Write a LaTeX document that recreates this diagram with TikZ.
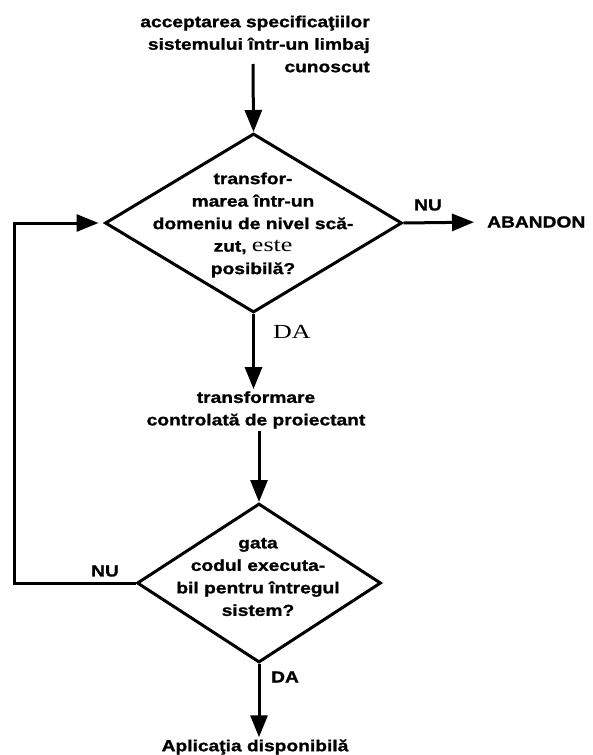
\documentclass[tikz,border=0pt]{standalone}
\usepackage{fontspec}
\setmainfont{Liberation Sans}[FakeStretch=1.2, BoldFeatures={FakeBold=1.2}]
\newfontfamily\romanfont{Liberation Serif}[FakeStretch=1.3]
\usetikzlibrary{shapes.geometric,arrows.meta}

\begin{document}
\begin{tikzpicture}[x=1pt,y=-1pt,
  every node/.style={font=\fontsize{16}{22.5}\selectfont\bfseries},
  flow/.style={line width=3pt, -{Triangle[length=22pt,width=17pt]}},
  box/.style={draw, line width=3pt, shape=diamond, inner sep=0pt},
  txt/.style={align=center, inner sep=2pt},
  tag/.style={inner sep=0pt},
  plain/.style={font=\fontsize{20}{24}\selectfont\romanfont\mdseries}
]
\useasboundingbox (0,0) rectangle (593,755);

% input specification
\node[txt, align=right, anchor=east] (spec) at (372,44)
  {acceptarea specificaţiilor\\sistemului într-un limbaj\\cunoscut};
\coordinate (specout) at (253,64);

% first decision
\node[box, minimum width=297pt, minimum height=179pt] (d1) at (253.5,223) {};
\node[txt] (d1t) at (253,225)
  {transfor-\\marea într-un\\domeniu de nivel scă-\\zut, {\fontsize{20}{22.5}\selectfont\romanfont\mdseries este}\\posibilă?};
\node[tag, anchor=west] (abandon) at (487,222) {ABANDON};
\node[tag] (nu1) at (428,205) {NU};
\node[tag, plain] (da1) at (292,332) {DA};

% transformation step
\node[txt] (tr) at (256,410) {transformare\\controlată de proiectant};

% second decision
\node[box, minimum width=244pt, minimum height=159pt] (d2) at (259,583) {};
\node[txt] (d2t) at (258,577) {gata\\codul executa-\\bil pentru întregul\\sistem?};
\node[tag] (nu2) at (105,571) {NU};
\node[tag] (da2) at (285,677) {DA};

% result
\node[txt] (app) at (255,747) {Aplicaţia disponibilă};

% connectors
\coordinate (loop) at (14,400);
\draw[flow] (specout) -- (d1.north);
\draw[flow, shorten >=13pt] (d1.east) -- (abandon.west);
\draw[flow] (d1.south) -- (d1.south |- tr.north);
\draw[flow] (d2.north |- tr.south) -- (d2.north);
\draw[flow] (d2.south) -- (d2.south |- app.north);
\draw[flow, shorten >=5pt] (d2.west) -| (loop) |- (d1.west);
\end{tikzpicture}
\end{document}
